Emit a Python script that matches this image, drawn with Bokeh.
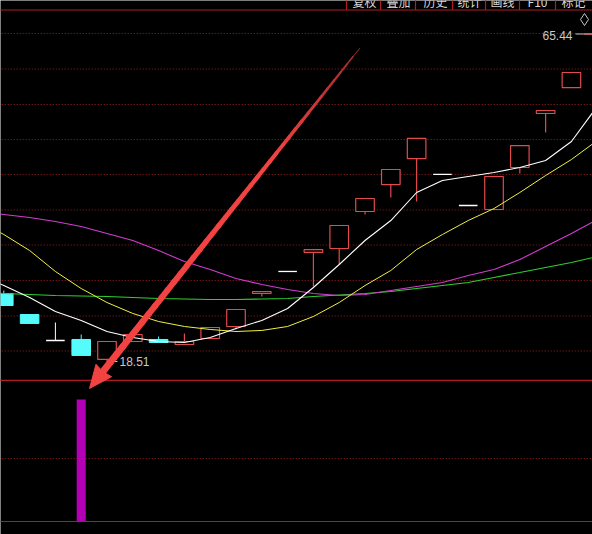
import numpy as np
from bokeh.plotting import figure
from bokeh.models import Range1d
from bokeh.embed import file_html
from bokeh.resources import INLINE
from bokeh.core.properties import value

W, H = 592, 534

# ---- daily candles (index, OHLC) ----
idx = list(range(23))
open_ = [28.24, 25.23, 21.51, 21.66, 18.80, 21.37, 21.66, 20.94, 21.80, 23.52, 28.24, 31.39,
         34.11, 34.68, 39.97, 43.83, 47.55, 45.27, 40.83, 40.26, 46.27, 53.99, 57.71]
high = [28.67, 25.23, 24.09, 22.37, 21.37, 22.37, 22.09, 22.52, 23.37, 25.95, 28.52, 31.39,
        34.53, 37.97, 41.83, 45.98, 50.42, 45.27, 40.83, 44.98, 49.41, 54.42, 59.86]
low = [26.52, 23.95, 21.51, 19.37, 18.51, 21.37, 21.23, 20.94, 21.80, 23.09, 27.81, 31.39,
       29.24, 32.39, 39.54, 41.97, 41.40, 45.27, 40.83, 40.26, 45.41, 51.27, 57.71]
close = [26.52, 23.95, 21.51, 19.37, 21.37, 22.37, 21.23, 21.37, 23.37, 25.95, 28.52, 31.39,
         34.53, 37.97, 41.83, 45.98, 50.42, 45.27, 40.83, 44.98, 49.41, 54.42, 59.86]

# ---- moving averages (index -1 .. 23) ----
ma_idx = list(range(-1, 24))
ma5 = [31.10, 29.38, 27.67, 25.66, 24.38, 22.80, 21.94, 21.37, 21.23, 21.94, 23.23, 24.38, 26.09,
       29.10, 32.39, 35.82, 38.68, 42.69, 44.41, 44.98, 45.55, 46.27, 47.27, 49.99, 55.00]
ma10 = [38.68, 36.68, 34.39, 31.39, 28.95, 26.95, 25.38, 24.23, 23.52, 23.09, 22.80, 22.95, 23.52,
        24.95, 26.95, 29.38, 31.53, 34.53, 36.68, 38.68, 40.40, 42.69, 45.12, 47.41, 50.13]
ma20 = [39.97, 39.54, 39.11, 38.54, 37.83, 36.82, 35.82, 34.39, 32.82, 31.67, 30.39, 29.53, 28.81,
        28.24, 27.95, 28.10, 28.67, 29.24, 29.81, 30.81, 31.67, 33.10, 34.96, 36.82, 38.83]
ma60 = [28.38, 28.24, 28.10, 27.95, 27.88, 27.81, 27.67, 27.52, 27.45, 27.38, 27.38, 27.45, 27.52,
        27.81, 28.03, 28.24, 28.53, 28.95, 29.38, 29.81, 30.53, 31.24, 31.96, 32.67, 33.53]

# price grid levels and the period high
grid_levels = [20.01, 25.02, 30.10, 35.18, 40.19, 45.27, 50.27, 55.28, 60.36, 65.44]
period_high = 65.44

# ---- lower indicator panel ----
signal = [0, 0, 0, 1, 0, 0, 0, 0, 0, 0, 0, 0, 0, 0, 0, 0, 0, 0, 0, 0, 0, 0, 0]

toolbar_items = ["复权", "叠加", "历史", "统计", "画线", "F10", "标记"]

# ---- ranges ----
X0, X1 = -0.128, 22.817
Y0, Y1 = -6.245, 70.162
IND0, IND1 = -0.1066, 4.2705


def at(px, py):
    """canvas pixel -> data coordinates of the price axis"""
    return X0 + px / W * (X1 - X0), Y1 - py / H * (Y1 - Y0)


RED = "#e24a4c"
CYAN = "#54fcfc"
GRID = "#9a2020"
FRAME = "#b01c22"

p = figure(width=W, height=H, x_range=Range1d(X0, X1), y_range=Range1d(Y0, Y1),
           output_backend="svg", toolbar_location=None, min_border=0,
           background_fill_color="black", border_fill_color="black",
           outline_line_color=None, x_axis_type=None, y_axis_type=None)
p.grid.visible = False
p.extra_y_ranges = {"ind": Range1d(IND0, IND1)}

xl, xr = X0 - 1, X1 + 1

# dotted price grid
for lv in grid_levels:
    p.segment(x0=[xl], y0=[lv], x1=[xr], y1=[lv], line_color=GRID, line_width=1,
              line_dash="1 2")

# frame lines: top of price panel, indicator panel top / mid / bottom
_, ytop = at(0, 9.5)
p.segment(x0=[xl], y0=[ytop], x1=[xr], y1=[ytop], line_color=FRAME, line_width=1.2)
p.segment(x0=[xl] * 2, y0=[1.156, 0.0], x1=[xr] * 2, y1=[1.156, 0.0],
          line_color=FRAME, line_width=1.2, y_range_name="ind")
p.segment(x0=[xl], y0=[0.516], x1=[xr], y1=[0.516], line_color=GRID, line_width=1,
          line_dash="1 2", y_range_name="ind")

# toolbar strip
sep_px = [346, 380, 415, 452, 485, 519, 555]
for sx in sep_px:
    x_, _ = at(sx, 0)
    _, yb = at(0, 9.5)
    _, yt = at(0, -2)
    p.segment(x0=[x_], y0=[yb], x1=[x_], y1=[yt], line_color=FRAME, line_width=1.2)
cell_px = [364, 398, 435, 469, 502, 537, 573]
tx = [at(c, 0)[0] for c in cell_px]
p.text(x=tx, y=[at(0, 0.5)[1]] * len(tx), text=toolbar_items, text_align="center",
       text_baseline="middle", text_color="#d8d8d8", text_font_size="12px",
       text_font=value("Noto Sans CJK SC"))

# candles
o = np.array(open_); c = np.array(close); h = np.array(high); l = np.array(low)
x = np.array(idx, dtype=float)
up = c > o
dn = c < o
dj = c == o
bw = 0.72

# falling: filled cyan
p.segment(x0=x[dn], y0=h[dn], x1=x[dn], y1=l[dn], line_color=CYAN, line_width=1)
p.quad(left=x[dn] - bw / 2, right=x[dn] + bw / 2, top=o[dn], bottom=c[dn],
       fill_color=CYAN, line_color=CYAN, line_width=1)

# rising: hollow red
p.segment(x0=x[up], y0=c[up], x1=x[up], y1=h[up], line_color=RED, line_width=1.2)
p.segment(x0=x[up], y0=o[up], x1=x[up], y1=l[up], line_color=RED, line_width=1.2)
p.quad(left=x[up] - bw / 2, right=x[up] + bw / 2, top=c[up], bottom=o[up],
       fill_color="black", line_color=RED, line_width=1.2)

# unchanged: white cross
p.segment(x0=x[dj], y0=h[dj], x1=x[dj], y1=l[dj], line_color="white", line_width=1)
p.segment(x0=x[dj] - bw / 2, y0=o[dj], x1=x[dj] + bw / 2, y1=o[dj],
          line_color="white", line_width=1.3)

# moving averages
p.line(ma_idx, ma60, line_color="#2ed02e", line_width=1.1)
p.line(ma_idx, ma20, line_color="#d23cd2", line_width=1.1)
p.line(ma_idx, ma10, line_color="#f0f040", line_width=1.0)
p.line(ma_idx, ma5, line_color="#ffffff", line_width=1.1)

# indicator bars
sig = np.array(signal)
p.vbar(x=x[sig > 0], top=sig[sig > 0], bottom=0, width=0.35, fill_color="#b400b4",
       line_color=None, y_range_name="ind")

# low / high annotations
lo_i = int(np.argmin(l))
lo_v = l[lo_i]
lx0, ly = at(111, 361.5)
lx1, _ = at(117, 361.5)
p.segment(x0=[lx0], y0=[lo_v], x1=[lx1], y1=[lo_v], line_color="#c8c8c8", line_width=1)
p.text(x=[at(119, 0)[0]], y=[lo_v], text=[f"{lo_v:.2f}"], text_align="left",
       text_baseline="middle", text_color="#c8c8c8", text_font_size="12px",
       text_font=value("Liberation Sans"))

p.text(x=[at(572, 0)[0]], y=[at(0, 35)[1]], text=[f"{period_high:.2f}"], text_align="right",
       text_baseline="middle", text_color="#c8c8c8", text_font_size="12px",
       text_font=value("Liberation Sans"))
hx0, _ = at(575, 0)
hx1, _ = at(583, 0)
hx2, _ = at(593, 0)
_, hy = at(0, 33.5)
p.segment(x0=[hx0], y0=[hy], x1=[hx1], y1=[hy], line_color="#c8c8c8", line_width=1)
p.segment(x0=[hx1], y0=[hy], x1=[hx2], y1=[hy], line_color="#f08080", line_width=1.5)

dx, dy = at(584, 19)
p.scatter(x=[dx], y=[dy], marker="diamond", size=12, fill_color=None,
          line_color="#c8c8c8", line_width=1)

# pointer arrow (tapered shaft + head), laid out in canvas pixels
tail = np.array([359.0, 48.0])
tip = np.array([89.0, 388.0])
u = (tip - tail) / np.linalg.norm(tip - tail)
n = np.array([-u[1], u[0]])
head_len, head_half = 23.0, 10.0
base = tip - head_len * u
steps = 40
ts = np.linspace(0, 1, steps + 1)
pts = tail[None, :] + ts[:, None] * (base - tail)[None, :]
widths = 1.0 + 6.0 * ts[:-1] ** 0.6
cols = []
for t in ts[:-1]:
    k = min(1.0, 0.35 + t * 2.0)
    r = int(120 + 122 * k)
    g = int(30 + 36 * k)
    cols.append(f"#{r:02x}{g:02x}{g:02x}")
sx0, sy0 = zip(*[at(*q) for q in pts[:-1]])
sx1, sy1 = zip(*[at(*q) for q in pts[1:]])
p.segment(x0=list(sx0), y0=list(sy0), x1=list(sx1), y1=list(sy1), line_color=cols,
          line_width=list(widths), line_cap="round")
head = [tip, base + head_half * n, base + 1.5 * u, base - head_half * n]
hxs, hys = zip(*[at(*q) for q in head])
p.patch(list(hxs), list(hys), fill_color="#f24242", line_color="#f24242", line_width=1)

open("out.html", "w").write(file_html(p, INLINE))
